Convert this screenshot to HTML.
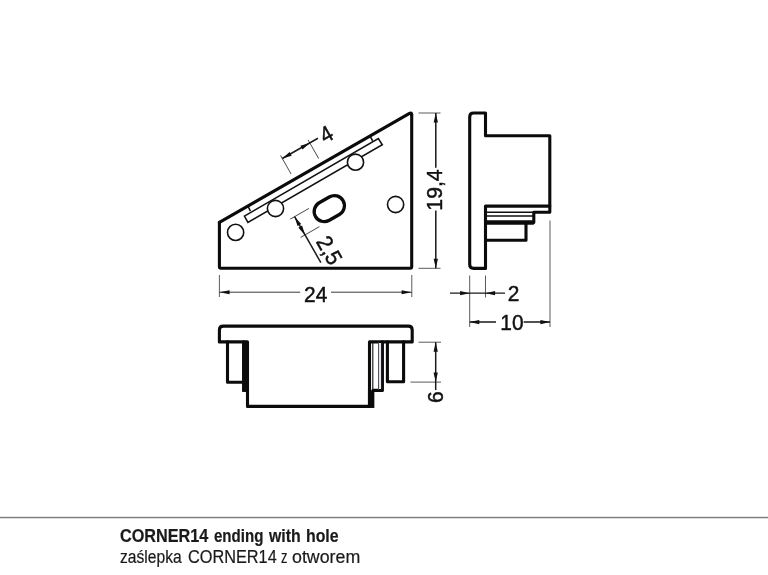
<!DOCTYPE html>
<html lang="pl">
<head>
<meta charset="utf-8">
<title>CORNER14 ending with hole</title>
<style>
html,body{margin:0;padding:0;background:#fff;}
body{width:768px;height:575px;overflow:hidden;position:relative;font-family:"Liberation Sans",sans-serif;}
svg{position:absolute;left:0;top:0;display:block;will-change:transform;opacity:.999;}
.k{fill:none;stroke:#0b0b0b;stroke-width:3.1;stroke-linejoin:round;stroke-linecap:round;}
.m{fill:none;stroke:#111;stroke-width:1.55;stroke-linejoin:miter;stroke-linecap:butt;}
.h{fill:#fff;stroke:#111;stroke-width:1.6;}
.d{fill:none;stroke:#1a1a1a;stroke-width:1.5;}
.e{fill:none;stroke:#484848;stroke-width:0.9;}
.a{fill:#111;stroke:none;}
.t{font-family:"Liberation Sans",sans-serif;font-size:22.5px;fill:#111;stroke:#111;stroke-width:.45px;text-anchor:middle;}
.cap{-webkit-text-stroke:.2px #1a1a1a;will-change:transform;opacity:.999;position:absolute;left:120px;color:#1a1a1a;white-space:nowrap;transform-origin:0 0;line-height:1;}
.cap span{position:absolute;top:0;left:0;transform-origin:0 0;display:block;}
#c1{top:527.9px;font-size:17.5px;font-weight:bold;}
#c2{top:549.1px;font-size:17.5px;}
#rule{position:absolute;left:0;top:516px;width:768px;height:3px;background:linear-gradient(to bottom,#e4e4e4 0,#e4e4e4 1px,#808080 1px,#808080 2px,#dadada 2px,#dadada 3px);}
</style>
</head>
<body>
<svg width="768" height="575" viewBox="0 0 768 575">
<!-- ===== TOP VIEW ===== -->
<g id="top">
  <!-- rail -->
  <path class="m" d="M244.4 216.15 L378.3 138.65 L382.3 144.75 L247.9 222.45 Z"/>
  <path class="m" d="M247.9 206 L250.4 211.2 M370 135.8 L372.6 140.9"/>
  <!-- holes -->
  <circle class="h" cx="235.6" cy="232.4" r="8.1"/>
  <circle class="h" cx="275.5" cy="208.5" r="8.1"/>
  <circle class="h" cx="355.5" cy="162.2" r="8.1"/>
  <circle class="h" cx="395.6" cy="204.5" r="8.1"/>
  <!-- slot -->
  <rect x="-15.9" y="-10.1" width="31.8" height="20.2" rx="10.1" ry="10.1" transform="translate(329.3 208.6) rotate(-30)" fill="none" stroke="#0b0b0b" stroke-width="3.3"/>
  <!-- outline -->
  <path class="k" d="M411.7 114.8 V266.8 Q411.7 268.3 410.2 268.3 H220.9 Q219.4 268.3 219.4 266.8 V222.4"/>
  <path class="k" style="stroke-width:3.2" d="M219.4 222.4 L409.5 113.4 Q411.7 112.15 411.7 114.8"/>
</g>
<!-- dim 24 -->
<path class="e" d="M219.4 275 V297 M411.8 275 V297"/>
<path class="d" style="stroke:#3a3a3a;stroke-width:1" d="M219.4 292.2 H300.2 M331 292.2 H411.8"/>
<path class="a" d="M219.4 292.2 l10.2 -2.05 v4.1 z M411.8 292.2 l-10.2 -2.05 v4.1 z"/>
<text class="t" transform="translate(315.7 301.5) scale(.93 1)">24</text>
<!-- dim 19,4 -->
<path class="e" d="M418.5 113 H440.5 M418.5 268.3 H440.5"/>
<path class="d" d="M435.8 113 V167.8 M435.8 210.6 V268.3"/>
<path class="a" d="M435.8 113 l-2.15 9.6 h4.3 z M435.8 268.3 l-2.15 -9.6 h4.3 z"/>
<text class="t" style="font-size:21.5px" transform="translate(441.8 190) rotate(-90) scale(.99 1)">19,4</text>
<!-- dim 4 -->
<g transform="translate(282.3 158.5) rotate(-29.6)">
  <path class="e" d="M0 -3.5 V18 M31.6 -3.5 V18"/>
  <path class="d" d="M0 0 H41"/>
  <path class="a" d="M0 0 l9.6 -2.15 v4.3 z M31.6 0 l-9.6 -2.15 v4.3 z"/>
  <text class="t" transform="translate(50.2 8.2) scale(.93 1)">4</text>
</g>
<!-- dim 2,5 -->
<g transform="translate(294.6 216.7) rotate(60.3)">
  <path class="e" d="M0 -16.6 V5 M21 -16.6 V5"/>
  <path class="d" d="M0 0 H53"/>
  <path class="a" d="M0 0 l9.6 -2.15 v4.3 z M21 0 l-9.6 -2.15 v4.3 z"/>
  <text class="t" transform="translate(46.3 -5.8) scale(.93 1)">2,5</text>
</g>
<!-- ===== SIDE VIEW ===== -->
<g id="side">
  <path class="k" d="M473.6 113 H485.5 V135.7 H549.8 V212.2 H533.8 V222.5 H526 V240.3 H485.5 V268.4 H473.6 Q469.7 268.4 469.7 264.5 V116.9 Q469.7 113 473.6 113 Z"/>
  <path class="k" d="M485.5 206.1 H549.8 M485.5 206.1 V240.3"/>
  <path class="m" d="M485.5 212.2 H533.8 M485.5 216 H533"/>
  <path d="M485.5 222.5 H533.8" fill="none" stroke="#0b0b0b" stroke-width="4.3"/>
</g>
<!-- dims 2 & 10 -->
<path class="e" d="M469.7 275.5 V327 M485.5 275.5 V297.5 M550 220.5 V327"/>
<path class="d" style="stroke-width:1.3" d="M450 293.2 H505"/>
<path class="a" d="M469.7 293.2 l-9.6 -2.15 v4.3 z M485.5 293.2 l9.6 -2.15 v4.3 z"/>
<text class="t" transform="translate(513.5 301.4) scale(.93 1)">2</text>
<path class="d" d="M469.7 322.1 H496 M523.6 322.1 H550"/>
<path class="a" d="M469.7 322.1 l9.6 -2.15 v4.3 z M550 322.1 l-9.6 -2.15 v4.3 z"/>
<text class="t" transform="translate(512 330.4) scale(.93 1)">10</text>
<!-- ===== FRONT VIEW ===== -->
<g id="front">
  <path class="k" d="M223.4 326.1 H408.3 Q412.2 326.1 412.2 330 V341.9 H369.5 V406.4 H247.5 V341.9 H219.4 V330 Q219.4 326.1 223.4 326.1 Z"/>
  <path class="k" d="M227.5 341.9 V382.2 H243.5"/>
  <path class="k" d="M243.7 341.9 V390.3 H247.5"/>
  <rect x="242.15" y="341.9" width="5" height="49.95" fill="#0b0b0b"/>
  <path class="k" d="M387.4 341.9 V381.7 H403.6 V341.9"/>
  <path class="k" d="M382.4 341.9 V390.4 H373"/>
  <rect x="367.95" y="390.4" width="6.4" height="17.55" fill="#0b0b0b"/>
  <rect x="378.9" y="343" width="2.2" height="46" fill="#e4e4ec"/>
  <path class="m" style="stroke-width:1.1" d="M372.8 341.9 V390"/>
  <path class="m" style="stroke-width:.9;stroke:#444" d="M378.5 341.9 V390"/>
</g>
<!-- dim 6 -->
<path class="e" d="M418.5 342.2 H441 M410.5 382.1 H441"/>
<path class="d" d="M435.7 342.2 V390"/>
<path class="a" d="M435.7 342.2 l-2.15 9.6 h4.3 z M435.7 382.1 l-2.15 -9.6 h4.3 z"/>
<text class="t" transform="translate(442.8 397.3) rotate(-90) scale(.93 1)">6</text>
</svg>
<div id="rule"></div>
<div class="cap" id="c1"><span style="left:0.3px;transform:scaleX(0.927)">CORNER14</span> <span style="left:94.4px;transform:scaleX(0.860)">ending</span> <span style="left:149.2px;transform:scaleX(0.905)">with</span> <span style="left:186.4px;transform:scaleX(0.906)">hole</span></div>
<div class="cap" id="c2"><span style="left:0.4px;transform:scaleX(0.893)">zaślepka</span> <span style="left:67.5px;transform:scaleX(0.931)">CORNER14</span> <span style="left:160.6px;transform:scaleX(0.737)">z</span> <span style="left:171.9px;transform:scaleX(1.017)">otworem</span></div>
</body>
</html>
